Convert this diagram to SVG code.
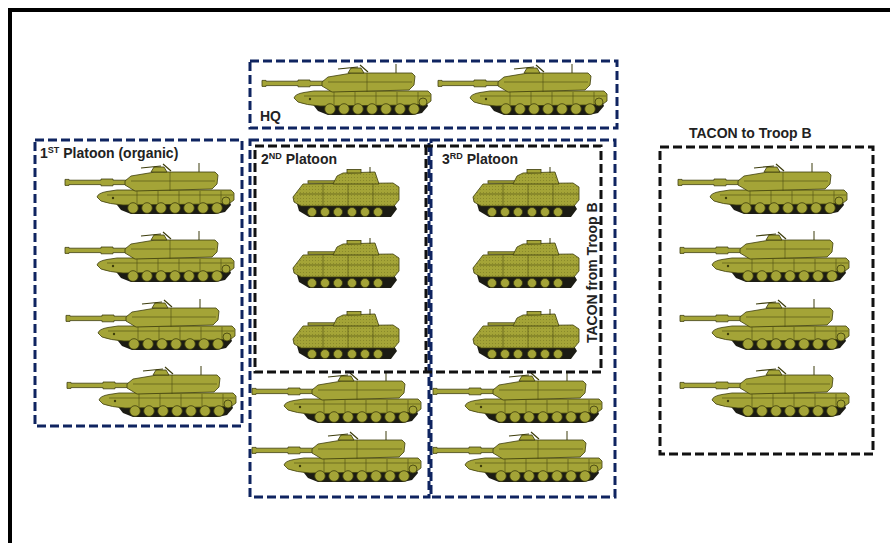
<svg xmlns="http://www.w3.org/2000/svg" xmlns:xlink="http://www.w3.org/1999/xlink" width="890" height="543" viewBox="0 0 890 543">
<style>
.o{fill:#a4a437;stroke:#3d3d0c;stroke-width:0.8}
.od{fill:url(#dots);stroke:#3d3d0c;stroke-width:0.8}
.trk{fill:#1c1c14}
.ln{fill:none;stroke:#4a4a12;stroke-width:0.6}
.navy{fill:none;stroke:#0f2460;stroke-width:3;stroke-dasharray:9 4}
.blk{fill:none;stroke:#111;stroke-width:3;stroke-dasharray:9 4}
.lbl{font-family:"Liberation Sans",Arial,sans-serif;font-weight:bold;font-size:14px;fill:#222}
.sup{font-size:9px}
</style>
<defs>
<pattern id="dots" width="3" height="3" patternUnits="userSpaceOnUse">
<rect width="3" height="3" fill="#a4a437"/>
<circle cx="1.5" cy="1.5" r="0.45" fill="#6d6d1c"/>
</pattern>
<g id="m1">
<path class="trk" d="M48,18 L164,18 L166,23 L160,30 L151,32 L66,32 L56,28 Z"/>
<path class="o" d="M32,15 Q33,11 42,9.5 L52,8 L166,8 L169,11 L169,18 L165,21 L150,22 L58,23 Q44,22 36,19 Z"/>
<g class="o">
<circle cx="68" cy="26" r="5.3"/><circle cx="82" cy="26" r="5.3"/><circle cx="96" cy="26" r="5.3"/><circle cx="110" cy="26" r="5.3"/><circle cx="124" cy="26" r="5.3"/><circle cx="138" cy="26" r="5.3"/><circle cx="152" cy="26" r="5.3"/>
<circle cx="161" cy="19" r="4"/>
</g>
<path class="o" d="M0,-2.6 h4 v0.8 h32 v-1.2 h12 v1.2 h22 v4.4 h-22 v1.2 h-12 v-1.2 h-32 v0.8 h-4 Z"/>
<path class="o" d="M60,-1 L66,-6 L90,-10 L150,-10 L153,-7 L152,2 L147,7 L70,9 L60,3 Z"/>
<path class="o" d="M86,-10 L89,-15 L99,-15 L102,-10 Z"/>
<path fill="none" stroke="#3d3d0c" stroke-width="1.2" d="M76,-14 L96,-16 M98,-18 L106,-11"/>
<line x1="134" y1="-19" x2="134" y2="-10" stroke="#3d3d0c" stroke-width="1"/>
<path class="ln" d="M72,9 v13 M93,9 v13 M114,9 v13 M135,9 v12 M156,9 v12 M42,13 L168,13 M105,-10 v19 M66,-1 L150,-1"/>
<circle cx="48" cy="16" r="1.2" fill="#3d3d0c"/>
</g>
<g id="m2">
<path class="trk" d="M4,37 L101,37 L104,42 L98,50 L16,50 L6,44 Z"/>
<path class="od" d="M0,30 L10,17 L100,16 L106,20 L106,33 L101,39 L8,39 L1,35 Z"/>
<g class="o">
<circle cx="19" cy="45" r="4.5"/><circle cx="32" cy="45" r="4.5"/><circle cx="45" cy="45" r="4.5"/><circle cx="59" cy="45" r="4.5"/><circle cx="72" cy="45" r="4.5"/><circle cx="85" cy="45" r="4.5"/>
</g>
<rect class="o" x="15" y="13.8" width="28" height="2.4"/>
<path class="od" d="M40,17 L44,9 L50,6 L82,5 L84,11 L86,17 Z"/>
<rect class="o" x="54" y="2.5" width="14" height="3.5"/>
<line x1="77" y1="0" x2="77" y2="6" stroke="#3d3d0c" stroke-width="1"/>
<path class="ln" d="M6,27 L106,27 M30,17 v22 M55,17 v22 M80,17 v22"/>
</g>
</defs>

<g id="frame">
<path d="M10,543 L10,10 L890,10" fill="none" stroke="#000" stroke-width="4"/>
</g>

<g id="connectors"></g>

<g id="hq">
<rect class="navy" x="250" y="61" width="367" height="67"/>
<use href="#m1" x="262" y="83"/>
<use href="#m1" x="438" y="83"/>
<text class="lbl" x="260" y="121">HQ</text>
</g>

<g id="platoon1">
<rect class="navy" x="35" y="140" width="207" height="286"/>
<text class="lbl" x="40" y="158">1<tspan class="sup" dy="-5">ST</tspan><tspan dy="5"> Platoon (organic)</tspan></text>
<use href="#m1" x="65" y="182"/>
<use href="#m1" x="65" y="250"/>
<use href="#m1" x="66" y="318"/>
<use href="#m1" x="67" y="385"/>
</g>

<g id="platoon2">
<rect class="navy" x="250" y="140" width="179" height="357"/>
<use href="#m1" x="252" y="391"/>
<use href="#m1" x="252" y="450"/>
</g>

<g id="platoon3">
<rect class="navy" x="431" y="140" width="184" height="357"/>
<use href="#m1" x="433" y="391"/>
<use href="#m1" x="433" y="450"/>
</g>

<g id="tacon-from">
<rect class="blk" x="255" y="146" width="346" height="226"/>
<line class="blk" x1="426" y1="146" x2="426" y2="372"/>
<text class="lbl" x="261" y="164">2<tspan class="sup" dy="-5">ND</tspan><tspan dy="5"> Platoon</tspan></text>
<text class="lbl" x="442" y="164">3<tspan class="sup" dy="-5">RD</tspan><tspan dy="5"> Platoon</tspan></text>
<use href="#m2" x="293" y="167"/>
<use href="#m2" x="293" y="238"/>
<use href="#m2" x="293" y="309"/>
<use href="#m2" x="473" y="167"/>
<use href="#m2" x="473" y="238"/>
<use href="#m2" x="473" y="309"/>
<text class="lbl" transform="translate(597,343) rotate(-90)">TACON from Troop B</text>
</g>

<g id="tacon-to">
<rect class="blk" x="660" y="147" width="213" height="307"/>
<text class="lbl" x="689" y="138">TACON to Troop B</text>
<use href="#m1" x="678" y="182"/>
<use href="#m1" x="680" y="250"/>
<use href="#m1" x="680" y="318"/>
<use href="#m1" x="680" y="385"/>
</g>
</svg>
